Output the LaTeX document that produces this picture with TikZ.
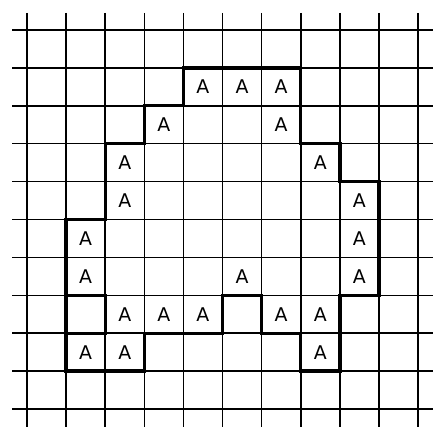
\documentclass[tikz,border=0pt]{standalone}
\usepackage{fontspec}
\setmainfont{DejaVu Sans}
\begin{document}
\begin{tikzpicture}[x=1pt,y=-1pt,
  gridline/.style={line width=1.6pt},
  outline/.style={line width=3.4pt, line join=miter, line cap=rect},
  lbl/.style={font=\fontsize{14}{14}\selectfont, inner sep=0pt, scale=1.35}]
\useasboundingbox (0,0) rectangle (433,427);
\fill[white] (0,0) rectangle (433,427);
% grid
\foreach \i in {0,...,10} {
  \draw[gridline] ({27+39.1*\i},13) -- ({27+39.1*\i},427);
  \draw[gridline] (12,{30+37.9*\i}) -- (433,{30+37.9*\i});
}
% grid points
\foreach \i in {0,...,10} {
  \foreach \j in {0,...,10} {
    \coordinate (p\i-\j) at ({27+39.1*\i},{30+37.9*\j});
  }
}
% thick outline
\draw[outline] (p4-1) -- (p7-1) -- (p7-3) -- (p8-3) -- (p8-4) -- (p9-4) -- (p9-7)
  -- (p8-7) -- (p8-9) -- (p7-9) -- (p7-8) -- (p6-8) -- (p6-7) -- (p5-7) -- (p5-8)
  -- (p3-8) -- (p3-9) -- (p1-9) -- (p1-5) -- (p2-5) -- (p2-3) -- (p3-3) -- (p3-2)
  -- (p4-2) -- cycle;
\draw[outline] (p1-7) -- (p2-7) -- (p2-8) -- (p1-8);
% labels
\foreach \c/\r in {4/1,5/1,6/1,3/2,6/2,2/3,7/3,2/4,8/4,1/5,8/5,1/6,5/6,8/6,
  2/7,3/7,4/7,6/7,7/7,1/8,2/8,7/8} {
  \node[lbl] (a\c-\r) at ({27+39.1*(\c+0.5)},{30+37.9*(\r+0.5)}) {A};
}
\end{tikzpicture}
\end{document}
